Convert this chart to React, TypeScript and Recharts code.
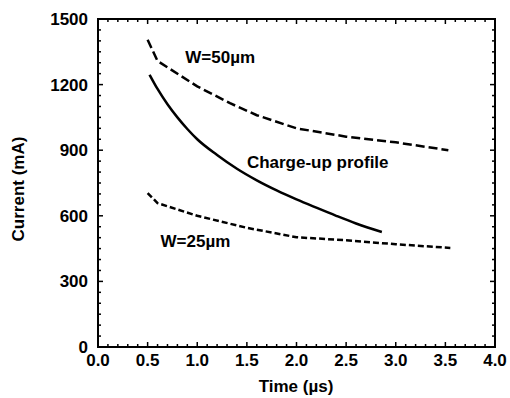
import { LineChart, Line, XAxis, YAxis, ReferenceDot, ReferenceArea } from "recharts";

// W=50um (dashed, upper)
const w50Time = [0.5, 0.6, 1.0, 1.33, 1.6, 2.0, 2.5, 3.0, 3.53];
const w50Current = [1405, 1308, 1192, 1115, 1060, 1000, 962, 936, 900];

// charge-up profile (solid)
const chargeTime = [0.52, 0.6, 0.7, 0.8, 0.9, 1.0, 1.2, 1.4, 1.6, 1.8, 2.0, 2.2, 2.4, 2.6, 2.86];
const chargeCurrent = [1245, 1180, 1110, 1050, 997, 950, 878, 815, 762, 716, 675, 637, 600, 565, 526];

// W=25um (dashed, lower)
const w25Time = [0.5, 0.6, 1.0, 1.5, 2.0, 2.5, 3.0, 3.55];
const w25Current = [704, 658, 600, 545, 502, 488, 470, 453];

const xMajor = [0, 0.5, 1.0, 1.5, 2.0, 2.5, 3.0, 3.5, 4.0];
const yMajor = [0, 300, 600, 900, 1200, 1500];
const xTicks = Array.from({ length: 41 }, (_, i) => i / 10);
const yTicks = Array.from({ length: 31 }, (_, i) => i * 50);

const toRows = (t: number[], c: number[]) => t.map((time, i) => ({ time, current: c[i] }));
const w50Data = toRows(w50Time, w50Current);
const chargeData = toRows(chargeTime, chargeCurrent);
const w25Data = toRows(w25Time, w25Current);

const FONT = "'Liberation Sans', Arial, Helvetica, sans-serif";
const PLOT_W = 397;
const PLOT_H = 328;
const isMajorX = (v: number) => xMajor.some((m) => Math.abs(m - v) < 1e-6);
const isMajorY = (v: number) => yMajor.includes(v);

// bottom ticks also mirrored onto the top border
const BottomTick = (props: any) => {
  const { x, y, payload } = props;
  const major = isMajorX(payload.value);
  const len = major ? 5 : 3;
  return (
    <g>
      <line x1={x} y1={y} x2={x} y2={y - len} stroke="#000" strokeWidth={1.5} />
      <line x1={x} y1={y - PLOT_H} x2={x} y2={y - PLOT_H + len} stroke="#000" strokeWidth={1.5} />
      {major && (
        <text x={x} y={y + 19} textAnchor="middle" fontFamily={FONT} fontWeight="bold" fontSize={17} fill="#000">
          {payload.value.toFixed(1)}
        </text>
      )}
    </g>
  );
};

// left ticks also mirrored onto the right border
const LeftTick = (props: any) => {
  const { x, y, payload } = props;
  const major = isMajorY(payload.value);
  const len = major ? 5 : 3;
  return (
    <g>
      <line x1={x} y1={y} x2={x + len} y2={y} stroke="#000" strokeWidth={1.5} />
      <line x1={x + PLOT_W} y1={y} x2={x + PLOT_W - len} y2={y} stroke="#000" strokeWidth={1.5} />
      {major && (
        <text x={x - 10} y={y + 6} textAnchor="end" fontFamily={FONT} fontWeight="bold" fontSize={17} fill="#000">
          {payload.value}
        </text>
      )}
    </g>
  );
};

const noteStyle = { fontFamily: FONT, fontWeight: "bold" as const, fontSize: 17, fill: "#000" };

export default function App() {
  return (
    <div style={{ position: "absolute", left: 0, top: 0, background: "#fff" }}>
      <LineChart width={510} height={398} margin={{ top: 19, right: 15, bottom: 0, left: 0 }}>
        <XAxis
          type="number"
          dataKey="time"
          domain={[0, 4]}
          ticks={xTicks}
          interval={0}
          height={51}
          tickSize={0}
          tickMargin={0}
          tickLine={false}
          stroke="#000"
          axisLine={false}
          tick={<BottomTick />}
          label={{
            content: () => (
              <text x={296} y={392} textAnchor="middle" style={noteStyle}>
                Time (µs)
              </text>
            ),
          }}
        />
        <YAxis
          type="number"
          domain={[0, 1500]}
          ticks={yTicks}
          interval={0}
          width={98}
          tickSize={0}
          tickMargin={0}
          tickLine={false}
          stroke="#000"
          axisLine={false}
          tick={<LeftTick />}
          label={{
            content: () => (
              <text x={24} y={189} textAnchor="middle" transform="rotate(-90 24 189)" style={noteStyle}>
                Current (mA)
              </text>
            ),
          }}
        />
        <ReferenceArea x1={0} x2={4} y1={0} y2={1500} fill="none" fillOpacity={0} stroke="#000" strokeWidth={2} strokeOpacity={1} />
        <Line
          data={w50Data}
          dataKey="current"
          type="linear"
          stroke="#000"
          strokeWidth={2.5}
          strokeDasharray="9 4"
          dot={false}
          isAnimationActive={false}
        />
        <Line
          data={chargeData}
          dataKey="current"
          type="monotone"
          stroke="#000"
          strokeWidth={2.5}
          dot={false}
          isAnimationActive={false}
        />
        <Line
          data={w25Data}
          dataKey="current"
          type="linear"
          stroke="#000"
          strokeWidth={2.5}
          strokeDasharray="6 3"
          dot={false}
          isAnimationActive={false}
        />
        <ReferenceDot x={0.88} y={1326} r={0} stroke="none" fill="none"
          label={{ value: "W=50µm", position: "right", offset: 0, style: noteStyle }} />
        <ReferenceDot x={1.5} y={846} r={0} stroke="none" fill="none"
          label={{ value: "Charge-up profile", position: "right", offset: 0, style: noteStyle }} />
        <ReferenceDot x={0.63} y={485} r={0} stroke="none" fill="none"
          label={{ value: "W=25µm", position: "right", offset: 0, style: noteStyle }} />
      </LineChart>
    </div>
  );
}
